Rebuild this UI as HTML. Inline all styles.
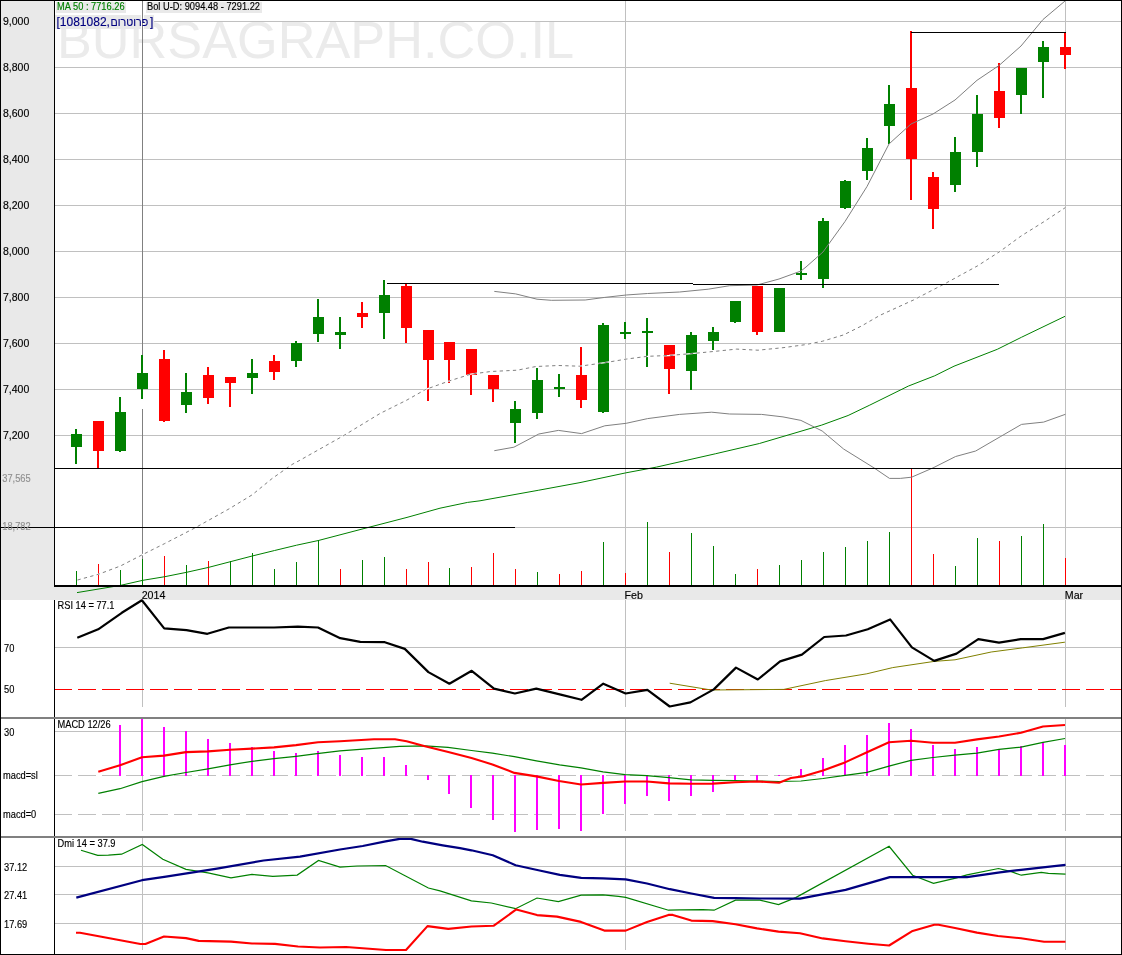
<!DOCTYPE html><html><head><meta charset="utf-8"><title>Chart</title><style>html,body{margin:0;padding:0;background:#fff;overflow:hidden}svg{display:block}text{font-family:"Liberation Sans", Arial, sans-serif}.b{stroke-width:0.15px}</style></head><body>
<svg width="1122" height="955" viewBox="0 0 1122 955">
<rect x="0" y="0" width="1122" height="955" fill="#fff"/>
<g shape-rendering="crispEdges">
<rect x="1" y="1" width="53" height="586" fill="#e9e9e9"/>
<rect x="1" y="587" width="1120" height="13" fill="#e9e9e9"/>
</g>
<text x="57" y="57.7" font-size="52" fill="#ebebeb" textLength="517" lengthAdjust="spacingAndGlyphs">BURSAGRAPH.CO.IL</text>
<g shape-rendering="crispEdges">
<rect x="55" y="21" width="1066" height="1" fill="#c0c0c0"/>
<rect x="55" y="67" width="1066" height="1" fill="#c0c0c0"/>
<rect x="55" y="113" width="1066" height="1" fill="#c0c0c0"/>
<rect x="55" y="159" width="1066" height="1" fill="#c0c0c0"/>
<rect x="55" y="205" width="1066" height="1" fill="#c0c0c0"/>
<rect x="55" y="251" width="1066" height="1" fill="#c0c0c0"/>
<rect x="55" y="297" width="1066" height="1" fill="#c0c0c0"/>
<rect x="55" y="343" width="1066" height="1" fill="#c0c0c0"/>
<rect x="55" y="389" width="1066" height="1" fill="#c0c0c0"/>
<rect x="55" y="435" width="1066" height="1" fill="#c0c0c0"/>
<rect x="55" y="527" width="1066" height="1" fill="#c0c0c0"/>
<rect x="56" y="1.5" width="70" height="11.5" fill="#e9e9e9"/>
<rect x="146" y="1.5" width="116" height="11.5" fill="#e9e9e9"/>
<rect x="55" y="15" width="99" height="14" fill="#e9e9e9"/>
<rect x="625" y="1" width="1" height="584" fill="#c0c0c0"/>
<rect x="1065" y="1" width="1" height="584" fill="#c0c0c0"/>
<rect x="141" y="15" width="1" height="14" fill="#fff"/>
<rect x="143" y="15" width="1" height="14" fill="#fff"/>
<rect x="142" y="1" width="1" height="398" fill="#808080"/>
<rect x="142" y="409" width="1" height="176" fill="#808080"/>
</g>
<g shape-rendering="crispEdges">
<rect x="76" y="571" width="1" height="14" fill="#008000"/>
<rect x="98" y="564" width="1" height="21" fill="#ff0000"/>
<rect x="120" y="570" width="1" height="15" fill="#008000"/>
<rect x="142" y="559" width="1" height="26" fill="#008000"/>
<rect x="164" y="556" width="1" height="29" fill="#ff0000"/>
<rect x="186" y="565" width="1" height="20" fill="#008000"/>
<rect x="208" y="561" width="1" height="24" fill="#ff0000"/>
<rect x="230" y="561" width="1" height="24" fill="#008000"/>
<rect x="252" y="553" width="1" height="32" fill="#008000"/>
<rect x="274" y="569" width="1" height="16" fill="#008000"/>
<rect x="296" y="562" width="1" height="23" fill="#008000"/>
<rect x="318" y="540" width="1" height="45" fill="#008000"/>
<rect x="340" y="569" width="1" height="16" fill="#ff0000"/>
<rect x="362" y="560" width="1" height="25" fill="#008000"/>
<rect x="384" y="557" width="1" height="28" fill="#008000"/>
<rect x="406" y="569" width="1" height="16" fill="#ff0000"/>
<rect x="428" y="562" width="1" height="23" fill="#ff0000"/>
<rect x="449" y="568" width="1" height="17" fill="#008000"/>
<rect x="471" y="567" width="1" height="18" fill="#ff0000"/>
<rect x="493" y="553" width="1" height="32" fill="#ff0000"/>
<rect x="515" y="569" width="1" height="16" fill="#ff0000"/>
<rect x="537" y="572" width="1" height="13" fill="#008000"/>
<rect x="559" y="574" width="1" height="11" fill="#ff0000"/>
<rect x="581" y="571" width="1" height="14" fill="#ff0000"/>
<rect x="603" y="542" width="1" height="43" fill="#008000"/>
<rect x="625" y="573" width="1" height="12" fill="#ff0000"/>
<rect x="647" y="522" width="1" height="63" fill="#008000"/>
<rect x="669" y="552" width="1" height="33" fill="#ff0000"/>
<rect x="691" y="533" width="1" height="52" fill="#008000"/>
<rect x="713" y="546" width="1" height="39" fill="#008000"/>
<rect x="735" y="574" width="1" height="11" fill="#008000"/>
<rect x="757" y="569" width="1" height="16" fill="#ff0000"/>
<rect x="779" y="565" width="1" height="20" fill="#008000"/>
<rect x="801" y="560" width="1" height="25" fill="#008000"/>
<rect x="823" y="552" width="1" height="33" fill="#008000"/>
<rect x="845" y="547" width="1" height="38" fill="#008000"/>
<rect x="867" y="541" width="1" height="44" fill="#008000"/>
<rect x="889" y="532" width="1" height="53" fill="#008000"/>
<rect x="911" y="468" width="1" height="117" fill="#ff0000"/>
<rect x="933" y="554" width="1" height="31" fill="#ff0000"/>
<rect x="955" y="566" width="1" height="19" fill="#008000"/>
<rect x="977" y="538" width="1" height="47" fill="#008000"/>
<rect x="999" y="541" width="1" height="44" fill="#ff0000"/>
<rect x="1021" y="536" width="1" height="49" fill="#008000"/>
<rect x="1043" y="524" width="1" height="61" fill="#008000"/>
<rect x="1065" y="558" width="1" height="27" fill="#ff0000"/>
</g>
<polyline points="77.0,592.6 120.4,585.4 142.4,580.4 164.8,576.7 186.6,572.3 208.5,567.4 230.4,561.7 252.2,556.0 274.6,550.5 296.6,545.2 318.4,540.5 368.0,527.5 407.0,517.4 440.0,508.2 467.6,502.4 480.0,500.8 538.8,490.2 580.0,482.6 625.6,472.9 656.5,467.1 715.3,453.8 759.4,443.5 800.0,431.5 821.7,425.1 848.1,415.5 869.8,405.1 908.3,386.1 934.7,375.8 954.0,366.2 997.3,349.3 1021.4,337.3 1065.0,316.3" fill="none" stroke="#008000" stroke-width="1"/>
<g shape-rendering="crispEdges">
<rect x="75" y="429" width="2" height="35" fill="#008000"/>
<rect x="71" y="434" width="11" height="13" fill="#008000"/>
<rect x="97" y="421" width="2" height="47" fill="#ff0000"/>
<rect x="93" y="421" width="11" height="30" fill="#ff0000"/>
<rect x="119" y="397" width="2" height="55" fill="#008000"/>
<rect x="115" y="412" width="11" height="39" fill="#008000"/>
<rect x="141" y="355" width="2" height="44" fill="#008000"/>
<rect x="137" y="373" width="11" height="16" fill="#008000"/>
<rect x="163" y="350" width="2" height="72" fill="#ff0000"/>
<rect x="159" y="359" width="11" height="62" fill="#ff0000"/>
<rect x="185" y="373" width="2" height="40" fill="#008000"/>
<rect x="181" y="392" width="11" height="13" fill="#008000"/>
<rect x="207" y="367" width="2" height="37" fill="#ff0000"/>
<rect x="203" y="375" width="11" height="23" fill="#ff0000"/>
<rect x="229" y="377" width="2" height="30" fill="#ff0000"/>
<rect x="225" y="377" width="11" height="6" fill="#ff0000"/>
<rect x="251" y="359" width="2" height="35" fill="#008000"/>
<rect x="247" y="373" width="11" height="5" fill="#008000"/>
<rect x="273" y="355" width="2" height="25" fill="#ff0000"/>
<rect x="269" y="361" width="11" height="11" fill="#ff0000"/>
<rect x="295" y="341" width="2" height="26" fill="#008000"/>
<rect x="291" y="343" width="11" height="18" fill="#008000"/>
<rect x="317" y="299" width="2" height="43" fill="#008000"/>
<rect x="313" y="317" width="11" height="17" fill="#008000"/>
<rect x="339" y="317" width="2" height="32" fill="#008000"/>
<rect x="335" y="332" width="11" height="3" fill="#008000"/>
<rect x="361" y="302" width="2" height="26" fill="#ff0000"/>
<rect x="357" y="313" width="11" height="4" fill="#ff0000"/>
<rect x="383" y="280" width="2" height="59" fill="#008000"/>
<rect x="379" y="295" width="11" height="18" fill="#008000"/>
<rect x="405" y="284" width="2" height="59" fill="#ff0000"/>
<rect x="401" y="286" width="11" height="42" fill="#ff0000"/>
<rect x="427" y="330" width="2" height="71" fill="#ff0000"/>
<rect x="423" y="330" width="11" height="30" fill="#ff0000"/>
<rect x="448" y="342" width="2" height="41" fill="#ff0000"/>
<rect x="444" y="342" width="11" height="18" fill="#ff0000"/>
<rect x="470" y="349" width="2" height="46" fill="#ff0000"/>
<rect x="466" y="349" width="11" height="26" fill="#ff0000"/>
<rect x="492" y="375" width="2" height="27" fill="#ff0000"/>
<rect x="488" y="375" width="11" height="14" fill="#ff0000"/>
<rect x="514" y="401" width="2" height="42" fill="#008000"/>
<rect x="510" y="409" width="11" height="14" fill="#008000"/>
<rect x="536" y="368" width="2" height="51" fill="#008000"/>
<rect x="532" y="380" width="11" height="33" fill="#008000"/>
<rect x="558" y="374" width="2" height="23" fill="#008000"/>
<rect x="554" y="387" width="11" height="2" fill="#008000"/>
<rect x="580" y="347" width="2" height="61" fill="#ff0000"/>
<rect x="576" y="375" width="11" height="25" fill="#ff0000"/>
<rect x="602" y="323" width="2" height="90" fill="#008000"/>
<rect x="598" y="325" width="11" height="87" fill="#008000"/>
<rect x="624" y="322" width="2" height="17" fill="#008000"/>
<rect x="620" y="332" width="11" height="2" fill="#008000"/>
<rect x="646" y="318" width="2" height="49" fill="#008000"/>
<rect x="642" y="331" width="11" height="2" fill="#008000"/>
<rect x="668" y="345" width="2" height="49" fill="#ff0000"/>
<rect x="664" y="345" width="11" height="24" fill="#ff0000"/>
<rect x="690" y="332" width="2" height="58" fill="#008000"/>
<rect x="686" y="335" width="11" height="36" fill="#008000"/>
<rect x="712" y="327" width="2" height="23" fill="#008000"/>
<rect x="708" y="332" width="11" height="9" fill="#008000"/>
<rect x="734" y="301" width="2" height="22" fill="#008000"/>
<rect x="730" y="301" width="11" height="21" fill="#008000"/>
<rect x="756" y="286" width="2" height="49" fill="#ff0000"/>
<rect x="752" y="286" width="11" height="46" fill="#ff0000"/>
<rect x="778" y="288" width="2" height="44" fill="#008000"/>
<rect x="774" y="288" width="11" height="44" fill="#008000"/>
<rect x="800" y="261" width="2" height="19" fill="#008000"/>
<rect x="796" y="273" width="11" height="2" fill="#008000"/>
<rect x="822" y="218" width="2" height="70" fill="#008000"/>
<rect x="818" y="221" width="11" height="58" fill="#008000"/>
<rect x="844" y="180" width="2" height="29" fill="#008000"/>
<rect x="840" y="181" width="11" height="27" fill="#008000"/>
<rect x="866" y="138" width="2" height="42" fill="#008000"/>
<rect x="862" y="148" width="11" height="23" fill="#008000"/>
<rect x="888" y="85" width="2" height="59" fill="#008000"/>
<rect x="884" y="104" width="11" height="22" fill="#008000"/>
<rect x="910" y="31" width="2" height="169" fill="#ff0000"/>
<rect x="906" y="88" width="11" height="71" fill="#ff0000"/>
<rect x="932" y="172" width="2" height="57" fill="#ff0000"/>
<rect x="928" y="177" width="11" height="32" fill="#ff0000"/>
<rect x="954" y="137" width="2" height="55" fill="#008000"/>
<rect x="950" y="152" width="11" height="33" fill="#008000"/>
<rect x="976" y="95" width="2" height="72" fill="#008000"/>
<rect x="972" y="114" width="11" height="38" fill="#008000"/>
<rect x="998" y="63" width="2" height="65" fill="#ff0000"/>
<rect x="994" y="91" width="11" height="27" fill="#ff0000"/>
<rect x="1020" y="68" width="2" height="46" fill="#008000"/>
<rect x="1016" y="68" width="11" height="27" fill="#008000"/>
<rect x="1042" y="41" width="2" height="57" fill="#008000"/>
<rect x="1038" y="47" width="11" height="15" fill="#008000"/>
<rect x="1064" y="33" width="2" height="36" fill="#ff0000"/>
<rect x="1060" y="47" width="11" height="8" fill="#ff0000"/>
</g>
<polyline points="77.5,580.0 98.7,574.2 120.4,566.0 142.4,554.7 164.8,543.5 194.8,528.0 229.7,508.5 252.2,494.8 272.0,478.6 292.0,464.5 300.0,460.2 342.8,436.1 380.2,413.4 407.0,400.0 425.7,389.4 449.7,380.8 470.7,374.2 490.8,371.5 517.2,370.2 536.0,366.5 558.4,365.5 579.8,366.2 604.8,362.7 626.2,359.1 647.6,356.3 669.0,355.5 693.9,353.4 715.3,351.3 736.7,349.1 758.0,350.2 783.0,347.7 804.4,344.8 822.2,341.3 843.6,334.9 861.5,326.0 880.0,315.3 913.5,300.0 946.5,282.8 977.3,266.0 1000.0,251.4 1021.1,236.0 1043.8,221.8 1065.5,207.5" fill="none" stroke="#fff" stroke-width="1.3"/>
<polyline points="77.5,580.0 98.7,574.2 120.4,566.0 142.4,554.7 164.8,543.5 194.8,528.0 229.7,508.5 252.2,494.8 272.0,478.6 292.0,464.5 300.0,460.2 342.8,436.1 380.2,413.4 407.0,400.0 425.7,389.4 449.7,380.8 470.7,374.2 490.8,371.5 517.2,370.2 536.0,366.5 558.4,365.5 579.8,366.2 604.8,362.7 626.2,359.1 647.6,356.3 669.0,355.5 693.9,353.4 715.3,351.3 736.7,349.1 758.0,350.2 783.0,347.7 804.4,344.8 822.2,341.3 843.6,334.9 861.5,326.0 880.0,315.3 913.5,300.0 946.5,282.8 977.3,266.0 1000.0,251.4 1021.1,236.0 1043.8,221.8 1065.5,207.5" fill="none" stroke="#808080" stroke-width="1" stroke-dasharray="3.3,3.3"/>
<polyline points="494.3,291.4 515.7,293.9 537.0,299.2 551.3,300.3 585.2,300.0 604.8,297.4 626.2,295.0 647.6,293.5 679.6,292.0 708.2,289.2 729.6,285.7 757.0,285.0 779.0,279.0 801.0,271.0 806.0,267.0 823.0,252.0 845.0,221.5 867.0,186.5 889.0,144.0 895.0,138.5 911.0,124.0 933.0,114.0 955.0,100.0 977.0,80.3 999.0,65.5 1021.0,46.0 1043.0,19.5 1065.0,1.0" fill="none" stroke="#808080" stroke-width="1"/>
<polyline points="494.3,450.7 513.9,447.2 538.8,434.0 558.4,430.4 581.6,433.6 604.8,425.8 626.2,423.3 647.6,418.6 679.6,414.4 711.7,412.2 729.6,414.0 761.6,414.4 783.0,416.9 800.9,420.4 822.2,431.0 843.6,449.0 874.0,467.9 889.5,478.4 900.3,478.4 911.6,477.2 933.0,467.9 955.6,456.5 975.7,451.0 1000.8,436.4 1021.5,424.4 1043.6,422.1 1065.4,414.3" fill="none" stroke="#808080" stroke-width="1"/>
<g shape-rendering="crispEdges">
<rect x="387" y="283" width="306" height="1" fill="#000"/>
<rect x="693" y="284" width="306" height="1" fill="#000"/>
<rect x="911" y="32" width="155" height="1" fill="#000"/>
<rect x="0" y="527" width="515" height="1" fill="#000"/>
<rect x="55" y="468" width="1066" height="1" fill="#000"/>
<rect x="54" y="585" width="1067" height="2" fill="#000"/>
</g>
<g font-size="10.5" fill="#000" stroke="#000" class="b">
<text x="3" y="25">9,000</text>
<text x="3" y="71">8,800</text>
<text x="3" y="117">8,600</text>
<text x="3" y="163">8,400</text>
<text x="3" y="209">8,200</text>
<text x="3" y="255">8,000</text>
<text x="3" y="301">7,800</text>
<text x="3" y="347">7,600</text>
<text x="3" y="393">7,400</text>
<text x="3" y="439">7,200</text>
</g>
<text transform="translate(2.3 482) scale(0.91 1)" font-size="10.2" fill="#909090" stroke="#909090" class="b">37,565</text>
<text transform="translate(2.3 530) scale(0.91 1)" font-size="10.2" fill="#909090" stroke="#909090" class="b">18,782</text>
<text transform="translate(57 10) scale(0.91 1)" font-size="10.2" fill="#008000" stroke="#008000" class="b">MA 50 : 7716.26</text>
<text transform="translate(147 10) scale(0.91 1)" font-size="10.2" fill="#000" stroke="#000" class="b">Bol U-D: 9094.48 - 7291.22</text>
<text x="56.5" y="26.3" font-size="12" fill="#000080" stroke="#000080" class="b">[1081082,</text>
<text transform="translate(110.6 26.3) scale(0.89 1)" font-size="12" fill="#000080" stroke="#000080" class="b">פרוטרום</text>
<text x="150" y="26.3" font-size="12" fill="#000080" stroke="#000080" class="b">]</text>
<g font-size="10.67" fill="#000" stroke="#000" class="b">
<text x="141.7" y="599">2014</text>
<text x="624.6" y="599">Feb</text>
<text x="1064.8" y="599">Mar</text>
</g>
<g shape-rendering="crispEdges">
<rect x="55" y="647" width="1066" height="1" fill="#c0c0c0"/>
<rect x="142" y="600" width="1" height="107" fill="#c0c0c0"/>
<rect x="625" y="600" width="1" height="107" fill="#c0c0c0"/>
<rect x="1065" y="600" width="1" height="107" fill="#c0c0c0"/>
<line x1="54" y1="689.5" x2="1121" y2="689.5" stroke="#ff0000" stroke-width="1" stroke-dasharray="18,6"/>
</g>
<polyline points="669.7,683.2 711.2,690.0 783.8,689.4 825.3,680.6 866.8,673.8 892.7,667.6 934.2,661.4 955.0,659.8 991.2,652.0 1022.4,647.9 1064.9,642.2" fill="none" stroke="#808000" stroke-width="1"/>
<polyline points="77.3,637.8 98.2,629.3 121.8,612.8 141.9,600.3 164.2,628.4 186.5,630.2 207.4,633.8 228.8,627.5 252.0,627.5 274.0,627.5 297.9,626.6 318.0,627.5 340.2,638.2 360.3,641.8 384.8,642.2 404.8,648.9 428.4,672.1 449.4,683.7 471.7,670.8 494.0,688.6 514.9,693.5 536.3,688.6 560.7,694.6 581.5,699.8 603.3,683.7 625.6,693.5 647.4,689.9 669.7,706.5 690.4,702.4 713.8,689.4 736.0,667.6 757.8,679.5 780.1,661.4 801.9,654.6 824.2,637.0 846.0,635.5 867.8,629.2 890.1,619.4 911.9,647.4 934.2,660.9 956.5,653.6 978.3,639.1 999.0,642.7 1020.8,639.1 1043.1,639.1 1064.9,632.9" fill="none" stroke="#000" stroke-width="2.2" stroke-linejoin="round"/>
<text transform="translate(57.5 609) scale(0.91 1)" font-size="10.2" fill="#000" stroke="#000" class="b">RSI 14 = 77.1</text>
<text transform="translate(4 652) scale(0.91 1)" font-size="10.2" fill="#000" stroke="#000" class="b">70</text>
<text transform="translate(4 693) scale(0.91 1)" font-size="10.2" fill="#000" stroke="#000" class="b">50</text>
<g shape-rendering="crispEdges">
<rect x="55" y="731" width="1066" height="1" fill="#c0c0c0"/>
<rect x="142" y="719" width="1" height="112" fill="#c0c0c0"/>
<rect x="625" y="719" width="1" height="112" fill="#c0c0c0"/>
<rect x="1065" y="719" width="1" height="112" fill="#c0c0c0"/>
<line x1="54" y1="775.5" x2="1121" y2="775.5" stroke="#c0c0c0" stroke-width="1" stroke-dasharray="18,6"/>
<line x1="54" y1="814.5" x2="1121" y2="814.5" stroke="#c0c0c0" stroke-width="1" stroke-dasharray="18,6"/>
<rect x="119" y="725" width="2" height="51" fill="#ff00ff"/>
<rect x="141" y="719" width="2" height="57" fill="#ff00ff"/>
<rect x="163" y="727" width="2" height="49" fill="#ff00ff"/>
<rect x="185" y="731" width="2" height="45" fill="#ff00ff"/>
<rect x="207" y="739" width="2" height="37" fill="#ff00ff"/>
<rect x="229" y="743" width="2" height="33" fill="#ff00ff"/>
<rect x="251" y="747" width="2" height="29" fill="#ff00ff"/>
<rect x="273" y="751" width="2" height="25" fill="#ff00ff"/>
<rect x="295" y="753" width="2" height="23" fill="#ff00ff"/>
<rect x="317" y="751" width="2" height="25" fill="#ff00ff"/>
<rect x="339" y="755" width="2" height="21" fill="#ff00ff"/>
<rect x="361" y="757" width="2" height="19" fill="#ff00ff"/>
<rect x="383" y="757" width="2" height="19" fill="#ff00ff"/>
<rect x="405" y="765" width="2" height="11" fill="#ff00ff"/>
<rect x="427" y="775" width="2" height="5" fill="#ff00ff"/>
<rect x="448" y="775" width="2" height="19" fill="#ff00ff"/>
<rect x="470" y="775" width="2" height="33" fill="#ff00ff"/>
<rect x="492" y="775" width="2" height="45" fill="#ff00ff"/>
<rect x="514" y="775" width="2" height="57" fill="#ff00ff"/>
<rect x="536" y="775" width="2" height="55" fill="#ff00ff"/>
<rect x="558" y="775" width="2" height="54" fill="#ff00ff"/>
<rect x="580" y="775" width="2" height="56" fill="#ff00ff"/>
<rect x="602" y="775" width="2" height="39" fill="#ff00ff"/>
<rect x="624" y="775" width="2" height="29" fill="#ff00ff"/>
<rect x="646" y="775" width="2" height="21" fill="#ff00ff"/>
<rect x="668" y="775" width="2" height="26" fill="#ff00ff"/>
<rect x="690" y="775" width="2" height="21" fill="#ff00ff"/>
<rect x="712" y="775" width="2" height="17" fill="#ff00ff"/>
<rect x="734" y="775" width="2" height="5" fill="#ff00ff"/>
<rect x="756" y="775" width="2" height="6" fill="#ff00ff"/>
<rect x="778" y="775" width="2" height="1" fill="#ff00ff"/>
<rect x="800" y="769" width="2" height="7" fill="#ff00ff"/>
<rect x="822" y="758" width="2" height="18" fill="#ff00ff"/>
<rect x="844" y="745" width="2" height="31" fill="#ff00ff"/>
<rect x="866" y="735" width="2" height="41" fill="#ff00ff"/>
<rect x="888" y="723" width="2" height="53" fill="#ff00ff"/>
<rect x="910" y="729" width="2" height="47" fill="#ff00ff"/>
<rect x="932" y="745" width="2" height="31" fill="#ff00ff"/>
<rect x="954" y="749" width="2" height="27" fill="#ff00ff"/>
<rect x="976" y="747" width="2" height="29" fill="#ff00ff"/>
<rect x="998" y="749" width="2" height="27" fill="#ff00ff"/>
<rect x="1020" y="746" width="2" height="30" fill="#ff00ff"/>
<rect x="1042" y="742" width="2" height="34" fill="#ff00ff"/>
<rect x="1064" y="745" width="2" height="31" fill="#ff00ff"/>
</g>
<polyline points="98.3,793.3 120.0,788.7 142.0,781.7 164.0,776.4 186.0,772.5 208.0,768.8 230.0,764.8 252.0,761.3 274.0,758.6 296.0,756.3 315.0,753.9 340.0,750.9 399.7,746.3 425.0,745.8 448.0,747.4 471.5,750.5 492.4,753.2 514.4,756.7 536.4,760.9 559.6,764.8 581.0,767.8 603.0,771.8 625.0,774.6 647.0,775.7 669.0,777.6 691.0,779.9 713.0,780.4 735.0,780.6 757.0,781.0 779.0,781.5 801.0,781.0 823.0,778.5 845.0,775.3 867.0,772.4 889.0,766.1 911.0,760.3 933.0,757.5 955.0,755.2 977.0,753.2 999.0,749.4 1021.0,747.1 1043.0,742.3 1065.0,738.5" fill="none" stroke="#008000" stroke-width="1.2"/>
<polyline points="98.3,771.8 120.0,765.3 142.0,757.2 164.0,755.6 186.0,752.1 208.0,751.4 230.0,749.8 252.0,748.6 274.0,747.4 296.0,745.1 318.0,742.3 340.0,741.2 374.0,739.3 395.0,739.3 406.6,741.2 425.0,746.3 448.3,752.0 471.5,757.9 492.4,764.4 514.4,772.9 536.4,776.4 559.0,781.0 581.0,784.5 603.0,782.9 625.0,781.5 647.0,781.5 669.0,783.4 691.0,783.8 713.0,783.6 735.0,782.2 757.0,781.5 779.0,782.7 791.0,778.0 802.6,776.4 823.0,770.4 845.0,762.4 867.0,752.3 889.0,742.3 911.0,740.8 933.0,742.8 955.0,742.8 977.0,739.4 999.0,736.5 1021.0,732.8 1043.0,726.5 1065.0,725.0" fill="none" stroke="#ff0000" stroke-width="2.1" stroke-linejoin="round"/>
<text transform="translate(57.5 728) scale(0.91 1)" font-size="10.2" fill="#000" stroke="#000" class="b">MACD 12/26</text>
<text transform="translate(4 735.7) scale(0.91 1)" font-size="10.2" fill="#000" stroke="#000" class="b">30</text>
<text transform="translate(3 779) scale(0.91 1)" font-size="10.2" fill="#000" stroke="#000" class="b">macd=sl</text>
<text transform="translate(3 818) scale(0.91 1)" font-size="10.2" fill="#000" stroke="#000" class="b">macd=0</text>
<g shape-rendering="crispEdges">
<rect x="55" y="866" width="1066" height="1" fill="#c0c0c0"/>
<rect x="55" y="894" width="1066" height="1" fill="#c0c0c0"/>
<rect x="55" y="923" width="1066" height="1" fill="#c0c0c0"/>
<rect x="142" y="838" width="1" height="112" fill="#c0c0c0"/>
<rect x="625" y="838" width="1" height="112" fill="#c0c0c0"/>
<rect x="1065" y="838" width="1" height="112" fill="#c0c0c0"/>
</g>
<polyline points="81.0,850.3 97.7,855.4 108.4,855.1 121.6,854.2 142.3,844.4 162.8,859.3 186.0,869.3 208.0,872.8 231.0,877.9 252.0,874.4 272.8,876.3 297.2,875.1 318.5,860.5 340.0,867.1 357.0,866.0 385.6,865.5 428.4,888.0 440.0,890.9 471.4,900.9 491.3,903.0 515.6,908.7 537.0,898.0 558.4,901.6 581.2,895.2 603.0,894.9 618.5,896.4 625.7,897.4 668.5,910.2 679.9,909.9 702.7,909.6 714.1,910.2 735.5,900.2 760.0,900.2 778.5,904.5 795.7,897.6 889.1,846.3 912.6,875.2 933.5,883.4 955.7,878.1 967.0,874.8 998.5,868.5 1011.3,871.7 1021.3,875.2 1041.3,872.4 1048.4,873.4 1065.5,874.2" fill="none" stroke="#008000" stroke-width="1.2"/>
<polyline points="76.0,932.7 80.0,932.7 140.4,944.0 145.4,944.0 164.0,936.5 186.0,938.1 198.7,940.9 231.0,941.6 252.0,943.5 275.0,943.9 298.0,946.5 320.0,947.5 346.0,947.0 386.0,950.0 406.0,950.0 427.5,926.1 448.3,928.9 471.5,926.5 493.5,925.8 516.3,909.4 537.0,915.1 557.0,916.6 581.0,921.9 604.3,930.6 625.7,930.6 647.0,922.0 668.5,914.9 672.8,914.9 691.3,920.6 712.7,921.1 735.5,924.2 757.0,928.4 778.5,931.6 800.0,933.3 822.7,938.4 845.6,941.3 868.4,943.7 889.1,945.5 912.6,930.9 934.3,924.7 938.5,924.7 955.0,928.0 977.0,932.6 998.0,936.0 1021.0,938.3 1044.1,941.8 1065.5,941.8" fill="none" stroke="#ff0000" stroke-width="2.1" stroke-linejoin="round"/>
<polyline points="76.3,897.6 142.0,880.2 166.0,876.7 217.0,868.6 263.6,860.5 300.0,856.7 340.0,849.5 362.7,846.0 385.6,841.4 399.8,838.9 409.8,838.6 422.7,841.7 442.7,845.3 460.0,848.1 471.4,850.3 492.8,855.3 515.6,865.2 538.4,870.2 559.8,874.8 581.2,877.8 603.0,878.3 625.7,879.3 647.0,883.5 669.9,889.2 691.3,893.5 714.1,897.8 735.5,898.2 760.0,898.5 800.0,898.7 845.6,889.9 889.8,877.1 967.0,877.1 999.9,872.4 1021.0,869.8 1043.0,867.3 1065.5,864.8" fill="none" stroke="#000080" stroke-width="2.2" stroke-linejoin="round"/>
<text transform="translate(57.5 847) scale(0.91 1)" font-size="10.2" fill="#000" stroke="#000" class="b">Dmi 14 = 37.9</text>
<text transform="translate(4 871) scale(0.91 1)" font-size="10.2" fill="#000" stroke="#000" class="b">37.12</text>
<text transform="translate(4 899) scale(0.91 1)" font-size="10.2" fill="#000" stroke="#000" class="b">27.41</text>
<text transform="translate(4 928) scale(0.91 1)" font-size="10.2" fill="#000" stroke="#000" class="b">17.69</text>
<g shape-rendering="crispEdges">
<rect x="54" y="0" width="1" height="585" fill="#000"/>
<rect x="54" y="600" width="1" height="355" fill="#000"/>
<rect x="1" y="717" width="1120" height="2" fill="#808080"/>
<rect x="1" y="836" width="1120" height="2" fill="#808080"/>
<rect x="0" y="0" width="1122" height="1" fill="#000"/>
<rect x="0" y="954" width="1122" height="1" fill="#000"/>
<rect x="0" y="0" width="1" height="955" fill="#000"/>
<rect x="1121" y="0" width="1" height="955" fill="#000"/>
</g>
</svg></body></html>
